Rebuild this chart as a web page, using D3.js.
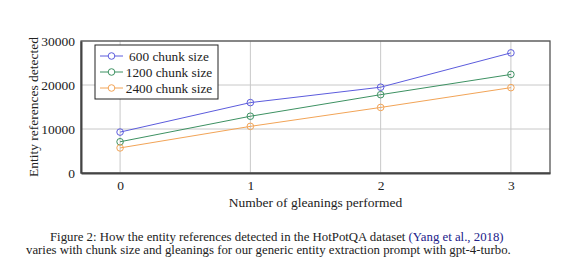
<!DOCTYPE html>
<html>
<head>
<meta charset="utf-8">
<script src="https://cdn.jsdelivr.net/npm/d3@7"></script>
<style>
  body { margin: 0; background: #fff; }
  svg text { font-family: "Liberation Serif", "DejaVu Serif", serif; fill: #222; }
</style>
</head>
<body>
<div id="chart"></div>
<script>
// data
const gleanings = [0, 1, 2, 3];
const seriesNames = ["600 chunk size", "1200 chunk size", "2400 chunk size"];
const values600 = [9300, 16000, 19500, 27300];
const values1200 = [7100, 12900, 17800, 22400];
const values2400 = [5700, 10600, 14900, 19400];
const yTicks = [0, 10000, 20000, 30000];
const colors = ["#5c5cdd", "#3d9162", "#f2a457"];

const series = [values600, values1200, values2400];

const width = 575, height = 272;
const margin = { top: 41, right: 25, bottom: 99, left: 81 };
const innerW = width - margin.left - margin.right;
const innerH = height - margin.top - margin.bottom;

const svg = d3.select("#chart").append("svg")
    .attr("width", width)
    .attr("height", height);

const g = svg.append("g")
    .attr("transform", `translate(${margin.left},${margin.top})`);

const x = d3.scaleLinear().domain([-0.3, 3.3]).range([0, innerW]);
const y = d3.scaleLinear().domain([0, 30000]).range([innerH, 0]);

// grid
g.append("g")
    .selectAll("line")
    .data(gleanings)
    .enter().append("line")
    .attr("x1", d => x(d)).attr("x2", d => x(d))
    .attr("y1", 0).attr("y2", innerH)
    .attr("stroke", "#c8c8c8").attr("stroke-width", 1);

g.append("g")
    .selectAll("line")
    .data(yTicks)
    .enter().append("line")
    .attr("x1", 0).attr("x2", innerW)
    .attr("y1", d => y(d)).attr("y2", d => y(d))
    .attr("stroke", "#c8c8c8").attr("stroke-width", 1);

// box
g.append("rect")
    .attr("width", innerW).attr("height", innerH)
    .attr("fill", "none").attr("stroke", "#555").attr("stroke-width", 1.3);

// axes
const xAxis = g.append("g")
    .attr("transform", `translate(0,${innerH})`)
    .call(d3.axisBottom(x).tickValues(gleanings).tickSize(0).tickPadding(7).tickFormat(d3.format("d")));
const yAxis = g.append("g")
    .call(d3.axisLeft(y).tickValues(yTicks).tickSize(0).tickPadding(6).tickFormat(d3.format("d")));

[xAxis, yAxis].forEach(a => {
    a.select(".domain").attr("stroke", "#444").attr("stroke-width", 2);
    a.selectAll("text")
        .style("font-family", "Liberation Serif, serif")
        .style("font-size", "13.5px")
        .attr("fill", "#222");
});

// lines and markers
const line = d3.line()
    .x((d, i) => x(gleanings[i]))
    .y(d => y(d));

series.forEach((vals, s) => {
    g.append("path")
        .datum(vals)
        .attr("d", line)
        .attr("fill", "none")
        .attr("stroke", colors[s])
        .attr("stroke-width", 1);

    g.append("g")
        .selectAll("circle")
        .data(vals)
        .enter().append("circle")
        .attr("cx", (d, i) => x(gleanings[i]))
        .attr("cy", d => y(d))
        .attr("r", 3.3)
        .attr("fill", "none")
        .attr("stroke", colors[s])
        .attr("stroke-width", 1);
});

// legend
const legend = g.append("g").attr("transform", "translate(14,4)");
legend.append("rect")
    .attr("width", 123).attr("height", 54)
    .attr("fill", "#fff").attr("stroke", "#222").attr("stroke-width", 1);

seriesNames.forEach((name, i) => {
    const row = legend.append("g").attr("transform", `translate(0,${11 + i * 16})`);
    row.append("line")
        .attr("x1", 5).attr("x2", 28)
        .attr("stroke", colors[i]).attr("stroke-width", 1);
    row.append("circle")
        .attr("cx", 16.5).attr("r", 3.3)
        .attr("fill", "#fff").attr("stroke", colors[i]).attr("stroke-width", 1);
    row.append("text")
        .attr("x", 74).attr("y", 4.5)
        .attr("text-anchor", "middle")
        .style("font-size", "13.3px")
        .text(name);
});

// axis titles
svg.append("text")
    .attr("x", margin.left + innerW / 2)
    .attr("y", 207)
    .attr("text-anchor", "middle")
    .style("font-size", "13.5px")
    .text("Number of gleanings performed");

svg.append("text")
    .attr("transform", `translate(38,${margin.top + innerH / 2}) rotate(-90)`)
    .attr("text-anchor", "middle")
    .style("font-size", "13.5px")
    .text("Entity references detected");

// caption
const cap1 = svg.append("text")
    .attr("x", 50).attr("y", 241)
    .style("font-size", "12.8px");
cap1.append("tspan").text("Figure 2:  How the entity references detected in the HotPotQA dataset ");
cap1.append("tspan").style("fill", "#22228a").text("(Yang et al., 2018)");

svg.append("text")
    .attr("x", 26).attr("y", 254)
    .style("font-size", "12.8px")
    .text("varies with chunk size and gleanings for our generic entity extraction prompt with gpt-4-turbo.");
</script>
</body>
</html>
